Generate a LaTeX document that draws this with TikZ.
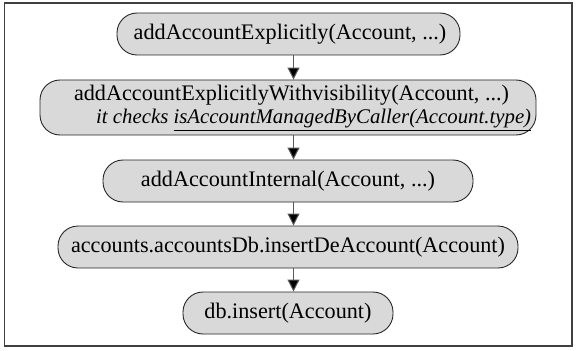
\documentclass[tikz,border=0pt]{standalone}
\usepackage{fontspec}
\setmainfont{Liberation Serif}
\usetikzlibrary{arrows.meta}
\begin{document}
\begin{tikzpicture}[x=1pt,y=-1pt,
  callbox/.style={draw=black!85,line width=0.9pt,fill=black!15,rounded corners=20pt,
    inner sep=0pt,font=\fontsize{22.2}{26}\selectfont},
  txt/.style={inner sep=0pt,font=\fontsize{22.2}{26}\selectfont},
  flow/.style={draw=black!65,line width=1pt,-{Triangle[length=12pt,width=12pt,fill=black]}},
  frame/.style={draw=black!75,line width=1.3pt}]
\useasboundingbox (0,0) rectangle (577,350);
\draw[frame] (4.5,3) rectangle (572,346);
\node[callbox,minimum width=343pt,minimum height=42pt] (n1) at (288.5,34) {\hspace*{3pt}addAccountExplicitly(Account, ...)};
\node[callbox,minimum width=496pt,minimum height=55pt] (n2) at (288,107.5) {};
\node[txt] (n2a) at (291.5,95) {addAccountExplicitlyWithvisibility(Account, ...)};
\node[txt,anchor=west,font=\fontsize{20.8}{24}\selectfont] (n2b) at (96,120) {\itshape it checks \underline{isAccountManagedByCaller(Account.type)}};
\node[callbox,minimum width=370pt,minimum height=42pt] (n3) at (288,181) {addAccountInternal(Account, ...)};
\node[callbox,minimum width=460pt,minimum height=42pt] (n4) at (288,247) {accounts.accountsDb.insertDeAccount(Account)};
\node[callbox,minimum width=210pt,minimum height=42pt] (n5) at (288,313) {db.insert(Account)};
\draw[flow] (n1.south -| 293.5,0) -- (n2.north -| 293.5,0);
\draw[flow] (n2.south -| 293.5,0) -- (n3.north -| 293.5,0);
\draw[flow] (n3.south -| 293.5,0) -- (n4.north -| 293.5,0);
\draw[flow] (n4.south -| 293.5,0) -- (n5.north -| 293.5,0);
\end{tikzpicture}
\end{document}
